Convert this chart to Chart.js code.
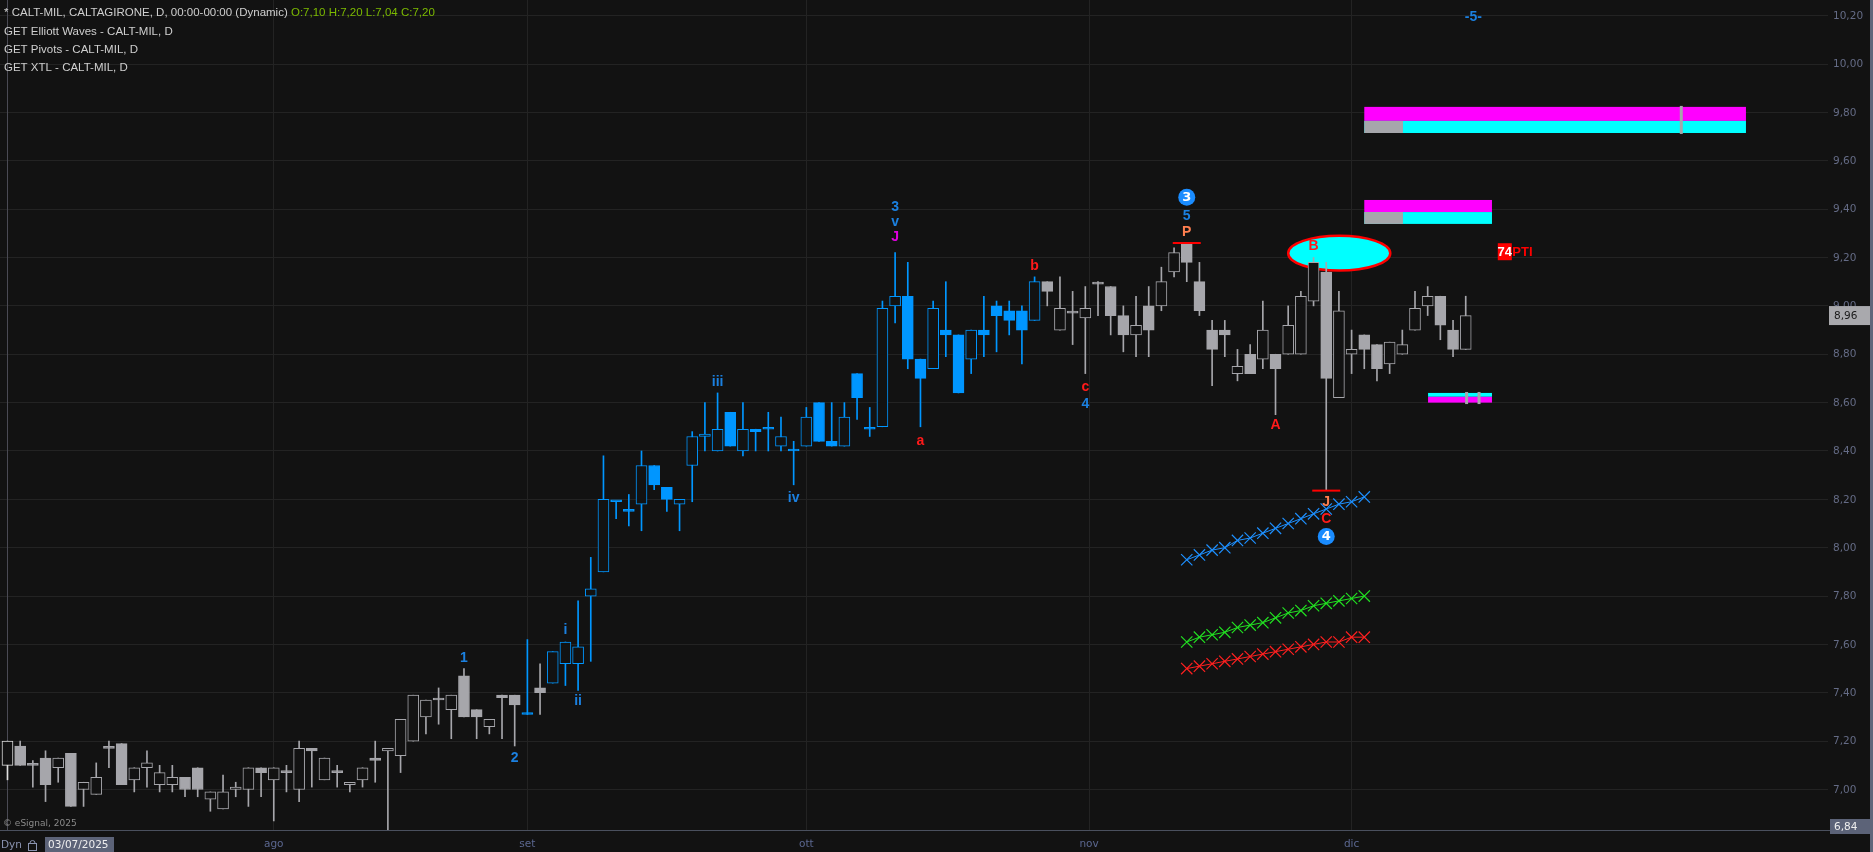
<!DOCTYPE html>
<html>
<head>
<meta charset="utf-8">
<title>CALT-MIL</title>
<script src="https://cdn.jsdelivr.net/npm/chart.js@4.4.1/dist/chart.umd.min.js"></script>
<style>
  html, body { margin: 0; padding: 0; background: #121212; overflow: hidden; }
  canvas { display: block; }
</style>
</head>
<body>
<canvas id="priceChart" width="1873" height="852"></canvas>
<script>
// Daily bars, 03/07/2025 .. 12/12/2025 (one entry per trading day)
let opens = [
  7.10, 7.18, 7.10, 7.13, 7.09, 7.15, 7.00, 6.98, 7.17, 7.19,
  7.04, 7.09, 7.02, 7.02, 7.05, 7.09, 6.96, 6.92, 7.00, 7.00,
  7.09, 7.04, 7.07, 7.00, 7.17, 7.04, 7.07, 7.02, 7.04, 7.13,
  7.16, 7.14, 7.20, 7.30, 7.37, 7.33, 7.47, 7.33, 7.26, 7.39,
  7.39, 7.31, 7.42, 7.44, 7.52, 7.52, 7.80, 7.90, 8.19, 8.15,
  8.18, 8.34, 8.25, 8.18, 8.34, 8.46, 8.40, 8.56, 8.40, 8.49,
  8.49, 8.42, 8.40, 8.42, 8.60, 8.44, 8.42, 8.72, 8.49, 8.50,
  9.00, 9.04, 8.78, 8.74, 8.90, 8.88, 8.78, 8.90, 9.00, 8.98,
  8.98, 8.94, 9.10, 8.90, 8.97, 8.95, 9.09, 9.08, 8.96, 8.88,
  9.00, 9.00, 9.14, 9.26, 9.10, 8.90, 8.90, 8.72, 8.80, 8.78,
  8.80, 8.80, 8.80, 9.02, 9.14, 8.62, 8.80, 8.88, 8.84, 8.76,
  8.80, 8.90, 9.00, 9.04, 8.90, 8.82
];
let highs = [
  7.20, 7.20, 7.12, 7.16, 7.13, 7.15, 7.03, 7.11, 7.20, 7.19,
  7.09, 7.16, 7.10, 7.10, 7.05, 7.09, 6.99, 7.06, 7.03, 7.09,
  7.09, 7.09, 7.10, 7.20, 7.17, 7.13, 7.10, 7.03, 7.09, 7.20,
  7.17, 7.29, 7.39, 7.37, 7.42, 7.39, 7.50, 7.33, 7.29, 7.39,
  7.39, 7.62, 7.52, 7.57, 7.61, 7.78, 7.96, 8.38, 8.19, 8.22,
  8.40, 8.34, 8.25, 8.20, 8.48, 8.60, 8.64, 8.56, 8.60, 8.49,
  8.56, 8.54, 8.44, 8.58, 8.60, 8.60, 8.60, 8.72, 8.58, 9.02,
  9.22, 9.18, 8.78, 9.02, 9.10, 8.88, 8.90, 9.04, 9.02, 9.02,
  9.00, 9.12, 9.10, 9.12, 9.06, 9.08, 9.10, 9.08, 9.00, 9.04,
  9.08, 9.16, 9.24, 9.26, 9.18, 8.94, 8.94, 8.82, 8.84, 9.02,
  8.80, 9.00, 9.06, 9.20, 9.18, 9.06, 8.90, 8.88, 8.84, 8.85,
  8.90, 9.06, 9.08, 9.04, 8.94, 9.04
];
let lows = [
  7.04, 7.10, 7.01, 6.95, 7.03, 6.93, 6.93, 6.98, 7.09, 7.02,
  6.99, 7.01, 6.99, 6.99, 6.97, 6.97, 6.91, 6.92, 6.97, 6.93,
  6.97, 6.87, 6.99, 6.95, 7.01, 7.04, 7.01, 6.99, 7.01, 7.03,
  6.82, 7.07, 7.20, 7.23, 7.27, 7.21, 7.30, 7.21, 7.23, 7.21,
  7.18, 7.31, 7.31, 7.44, 7.43, 7.41, 7.53, 7.90, 8.12, 8.09,
  8.07, 8.24, 8.15, 8.07, 8.19, 8.40, 8.40, 8.42, 8.38, 8.40,
  8.40, 8.40, 8.26, 8.42, 8.44, 8.42, 8.42, 8.53, 8.46, 8.50,
  8.93, 8.74, 8.50, 8.74, 8.79, 8.64, 8.72, 8.79, 8.81, 8.88,
  8.76, 8.94, 9.00, 8.90, 8.84, 8.72, 8.96, 8.88, 8.81, 8.79,
  8.79, 8.98, 9.12, 9.10, 8.96, 8.67, 8.79, 8.69, 8.72, 8.74,
  8.55, 8.80, 8.80, 9.00, 8.24, 8.62, 8.72, 8.74, 8.69, 8.72,
  8.80, 8.90, 8.96, 8.86, 8.79, 8.82
];
let closes = [
  7.20, 7.10, 7.10, 7.02, 7.13, 6.93, 7.03, 7.05, 7.17, 7.02,
  7.09, 7.11, 7.07, 7.05, 7.00, 7.00, 6.99, 6.99, 7.01, 7.09,
  7.07, 7.09, 7.07, 7.17, 7.16, 7.13, 7.07, 7.03, 7.09, 7.12,
  7.17, 7.29, 7.39, 7.37, 7.37, 7.39, 7.30, 7.30, 7.29, 7.38,
  7.35, 7.31, 7.40, 7.57, 7.61, 7.59, 7.83, 8.20, 8.19, 8.15,
  8.34, 8.26, 8.20, 8.20, 8.46, 8.47, 8.49, 8.42, 8.49, 8.48,
  8.49, 8.46, 8.40, 8.54, 8.44, 8.42, 8.54, 8.62, 8.49, 8.99,
  9.04, 8.78, 8.70, 8.99, 8.88, 8.64, 8.90, 8.88, 8.96, 8.94,
  8.90, 9.10, 9.06, 8.99, 8.97, 8.99, 9.09, 8.96, 8.88, 8.92,
  8.90, 9.10, 9.22, 9.18, 8.98, 8.82, 8.88, 8.75, 8.72, 8.90,
  8.74, 8.92, 9.04, 9.18, 8.70, 8.98, 8.82, 8.82, 8.74, 8.85,
  8.84, 8.99, 9.04, 8.92, 8.82, 8.96
];

// bars painted blue by the wave study
let blueBars = [41, 43, 81];   // single bar, then a run from..to
let cursorIndex = 0;
let cursorDate = "03/07/2025";
let bottomPrice = 6.84;

// axis ticks
let priceTicks = [7.0, 7.2, 7.4, 7.6, 7.8, 8.0, 8.2, 8.4, 8.6, 8.8, 9.0, 9.2, 9.4, 9.6, 9.8, 10.0, 10.2];
let monthTicks = [21, 41, 63, 85.3, 106];
let monthLabels = ["ago", "set", "ott", "nov", "dic"];

// XTL channel lines (bar index, price)
let channelIdx = [93, 94, 95, 96, 97, 98, 99, 100, 101, 102, 103, 104, 105, 106, 107];
let channelBlue  = [7.95, 7.97, 7.99, 8.00, 8.03, 8.04, 8.06, 8.08, 8.10, 8.12, 8.14, 8.16, 8.18, 8.19, 8.21];
let channelGreen = [7.61, 7.63, 7.64, 7.65, 7.67, 7.68, 7.69, 7.71, 7.73, 7.74, 7.76, 7.77, 7.78, 7.79, 7.80];
let channelRed   = [7.50, 7.51, 7.52, 7.53, 7.54, 7.55, 7.56, 7.57, 7.58, 7.59, 7.60, 7.61, 7.61, 7.63, 7.63];

// wave labels: [bar index, price, text, colour]
let waveLabels = [
  [36, 7.544, "1", "wave"],
  [40, 7.128, "2", "wave"],
  [44, 7.66, "i", "wave"],
  [45, 7.366, "ii", "wave"],
  [56, 8.686, "iii", "wave"],
  [62, 8.204, "iv", "wave"],
  [70, 9.407, "3", "wave"],
  [70, 9.347, "v", "wave"],
  [70, 9.285, "J", "magenta"],
  [72, 8.439, "a", "red"],
  [81, 9.164, "b", "red"],
  [85, 8.665, "c", "red"],
  [85, 8.594, "4", "wave"],
  [93, 9.372, "5", "wave"],
  [93, 9.303, "P", "orange"],
  [100, 8.505, "A", "red"],
  [103, 9.248, "B", "red"],
  [104, 8.188, "J", "orange"],
  [104, 8.117, "C", "red"],
  [115.6, 10.193, "-5-", "wave"]
];
let waveCircles = [[93, 9.449, "3"], [104, 8.046, "4"]];
let pivotMarks = [[93, 9.26], [104, 8.236]];

// target zones: [from index, to index, low, high, colour]
let zoneBoxes = [
  [107, 137.1, 9.765, 9.823, "pink"],
  [107, 137.1, 9.715, 9.765, "cyan"],
  [107, 110.05, 9.715, 9.765, "grey"],
  [107, 117.07, 9.388, 9.438, "pink"],
  [107, 117.07, 9.339, 9.388, "cyan"],
  [107, 110.05, 9.339, 9.388, "grey"],
  [112.03, 117.07, 8.624, 8.640, "cyan"],
  [112.03, 117.07, 8.600, 8.624, "pink"]
];
let zoneMarks = [[132, 9.711, 9.827], [115.07, 8.594, 8.644], [116.05, 8.594, 8.644]];
let ellipseZone = [101, 109.05, 9.146, 9.29];
let ptiMark = [118.08, 9.224, "74", "PTI"];

let header = "* CALT-MIL, CALTAGIRONE, D, 00:00-00:00 (Dynamic)";
let studies = ["GET Elliott Waves - CALT-MIL, D", "GET Pivots - CALT-MIL, D", "GET XTL - CALT-MIL, D"];

const COL = {
  bg: "#121212",
  grey: "#a6a6ab",
  blue: "#0096ff",
  wave: "#1b80e0",
  red: "#ff1a1a",
  magenta: "#e000e0",
  orange: "#ff7f50",
  cyan: "#00ffff",
  pink: "#ff00ff",
  grid: "#232323"
};

function fmt(v) {
  return v.toFixed(2).replace(".", ",");
}

// candle colours
let candleColors = opens.map((o, i) => {
  if (i === cursorIndex) return "#dedede";
  if (i === blueBars[0] || (i >= blueBars[1] && i <= blueBars[2])) return COL.blue;
  return COL.grey;
});
let bodyFill = opens.map((o, i) => (closes[i] > o ? COL.bg : candleColors[i]));

function channelSet(vals, color) {
  return {
    type: "line",
    data: channelIdx.map((x, k) => ({ x: x, y: vals[k] })),
    borderColor: color,
    borderWidth: 1,
    pointStyle: "crossRot",
    pointRadius: 8,
    pointBorderWidth: 1.2,
    pointBorderColor: color,
    order: 0
  };
}

const overlayPlugin = {
  id: "overlay",
  beforeDatasetsDraw(chart) {
    const { ctx, chartArea: a } = chart;
    const x = chart.scales.x, y = chart.scales.y;
    ctx.save();
    ctx.beginPath();
    ctx.rect(a.left, a.top, a.right - a.left, a.bottom - a.top);
    ctx.clip();

    // cursor line
    let cx = Math.round(x.getPixelForValue(cursorIndex)) + 0.5;
    ctx.strokeStyle = "#4a4a54";
    ctx.lineWidth = 1;
    ctx.beginPath();
    ctx.moveTo(cx, a.top);
    ctx.lineTo(cx, a.bottom);
    ctx.stroke();

    // target zones
    zoneBoxes.forEach(([i0, i1, lo, hi, c]) => {
      let x0 = x.getPixelForValue(i0), x1 = x.getPixelForValue(i1);
      let y0 = y.getPixelForValue(hi), y1 = y.getPixelForValue(lo);
      ctx.fillStyle = COL[c];
      ctx.fillRect(x0, y0, x1 - x0, y1 - y0);
    });
    ctx.fillStyle = COL.grey;
    zoneMarks.forEach(([i, lo, hi]) => {
      let px = x.getPixelForValue(i);
      let y0 = y.getPixelForValue(hi), y1 = y.getPixelForValue(lo);
      ctx.fillRect(px - 1.5, y0, 3, y1 - y0);
    });

    // ellipse around B
    let [e0, e1, eLo, eHi] = ellipseZone;
    let ex0 = x.getPixelForValue(e0), ex1 = x.getPixelForValue(e1);
    let ey0 = y.getPixelForValue(eHi), ey1 = y.getPixelForValue(eLo);
    ctx.beginPath();
    ctx.ellipse((ex0 + ex1) / 2, (ey0 + ey1) / 2, (ex1 - ex0) / 2, (ey1 - ey0) / 2, 0, 0, Math.PI * 2);
    ctx.fillStyle = COL.cyan;
    ctx.fill();
    ctx.strokeStyle = "#ff0000";
    ctx.lineWidth = 2.5;
    ctx.stroke();
    ctx.restore();
  },
  afterDatasetsDraw(chart) {
    const { ctx } = chart;
    const x = chart.scales.x, y = chart.scales.y;
    ctx.save();

    // pivot dashes
    ctx.fillStyle = "#ff0000";
    pivotMarks.forEach(([i, v]) => {
      let px = x.getPixelForValue(i), py = y.getPixelForValue(v);
      ctx.fillRect(px - 14, py - 1, 28, 2);
    });

    // wave labels
    ctx.textAlign = "center";
    ctx.textBaseline = "middle";
    waveLabels.forEach(([i, v, t, c]) => {
      ctx.font = 'bold 14px "Liberation Sans"';
      ctx.fillStyle = COL[c];
      ctx.fillText(t, x.getPixelForValue(i), y.getPixelForValue(v));
    });

    // circled wave degrees
    waveCircles.forEach(([i, v, t]) => {
      let px = x.getPixelForValue(i), py = y.getPixelForValue(v);
      ctx.beginPath();
      ctx.arc(px, py, 8.5, 0, Math.PI * 2);
      ctx.fillStyle = "#1a8cff";
      ctx.fill();
      ctx.font = 'bold 13px "DejaVu Sans"';
      ctx.fillStyle = "#ffffff";
      ctx.fillText(t, px, py + 0.5);
    });

    // PTI box
    let [pi, pv, num, word] = ptiMark;
    let ppx = x.getPixelForValue(pi), ppy = y.getPixelForValue(pv);
    ctx.fillStyle = "#ff0000";
    ctx.fillRect(ppx - 7, ppy - 8.5, 14, 17);
    ctx.font = 'bold 13px "Liberation Sans"';
    ctx.fillStyle = "#ffffff";
    ctx.fillText(num, ppx, ppy + 0.5);
    ctx.textAlign = "left";
    ctx.fillStyle = "#ff0000";
    ctx.fillText(word, ppx + 7.5, ppy + 0.5);
    ctx.restore();
  },
  afterDraw(chart) {
    const { ctx, chartArea: a } = chart;
    const x = chart.scales.x, y = chart.scales.y;
    const W = chart.width, H = chart.height;
    ctx.save();

    // axis frame
    ctx.fillStyle = "#4a505e";
    ctx.fillRect(0, a.bottom, W, 1);
    ctx.fillStyle = "#5f667a";
    ctx.fillRect(W - 3, 0, 3, H);

    // price labels
    ctx.font = '10.5px "DejaVu Sans"';
    ctx.textAlign = "left";
    ctx.textBaseline = "middle";
    ctx.fillStyle = "#646b85";
    priceTicks.forEach((v) => ctx.fillText(fmt(v), a.right + 5, y.getPixelForValue(v) + 0.5));

    // month labels
    ctx.textAlign = "center";
    ctx.fillStyle = "#5b6790";
    monthTicks.forEach((v, k) => ctx.fillText(monthLabels[k], x.getPixelForValue(v), a.bottom + 14));
    ctx.textAlign = "left";

    // last price box
    let ly = y.getPixelForValue(closes[closes.length - 1]);
    ctx.fillStyle = "#a9a9ad";
    ctx.fillRect(a.right + 1, ly - 9.5, 41, 19);
    ctx.fillStyle = "#1a1a1a";
    ctx.fillText(fmt(closes[closes.length - 1]), a.right + 6, ly + 0.5);

    // bottom price box
    ctx.fillStyle = "#5c6378";
    ctx.fillRect(a.right + 2, a.bottom - 11, 40, 15);
    ctx.fillStyle = "#eeeeee";
    ctx.fillText(fmt(bottomPrice), a.right + 6, a.bottom - 3);

    // cursor date box
    ctx.fillStyle = "#5c6378";
    ctx.fillRect(45, a.bottom + 7, 69, H - a.bottom - 7);
    ctx.fillStyle = "#eeeeee";
    ctx.fillText(cursorDate, 48, a.bottom + 15);
    ctx.fillStyle = "#8a93b0";
    ctx.fillText("Dyn", 1, a.bottom + 15);
    // lock glyph
    ctx.strokeStyle = "#8a93b0";
    ctx.lineWidth = 1;
    ctx.strokeRect(28.5, a.bottom + 13.5, 8, 7);
    ctx.beginPath();
    ctx.arc(32.5, a.bottom + 13, 2.5, Math.PI, 0);
    ctx.stroke();

    // copyright
    ctx.fillStyle = "#8a8a8a";
    ctx.font = '9px "DejaVu Sans"';
    ctx.fillText("\u00a9 eSignal, 2025", 3, a.bottom - 6);

    // study header
    ctx.font = '11.5px "Liberation Sans"';
    ctx.fillStyle = "#cfcfcf";
    ctx.fillText(header, 4, 13);
    let w = ctx.measureText(header + " ").width;
    ctx.fillStyle = "#7cba00";
    let i = cursorIndex;
    ctx.fillText("O:" + fmt(opens[i]) + " H:" + fmt(highs[i]) + " L:" + fmt(lows[i]) + " C:" + fmt(closes[i]), 4 + w, 13);
    ctx.fillStyle = "#cfcfcf";
    studies.forEach((s, k) => ctx.fillText(s, 4, 32 + k * 18));
    ctx.restore();
  }
};

let ctx = document.getElementById("priceChart").getContext("2d");

let priceChart = new Chart(ctx, {
  type: "bar",
  data: {
    datasets: [
      channelSet(channelBlue, "#1e90ff"),
      channelSet(channelGreen, "#22e022"),
      channelSet(channelRed, "#ff2020"),
      {
        label: "body",
        data: opens.map((o, i) => ({ x: i, y: [Math.min(o, closes[i]), Math.max(o, closes[i])] })),
        backgroundColor: bodyFill,
        borderColor: candleColors,
        borderWidth: 1,
        borderSkipped: false,
        barThickness: 11,
        minBarLength: 2,
        grouped: false,
        order: 1
      },
      {
        label: "wick",
        data: lows.map((l, i) => ({ x: i, y: [l, highs[i]] })),
        backgroundColor: candleColors,
        borderWidth: 0,
        barThickness: 1,
        grouped: false,
        order: 2
      }
    ]
  },
  options: {
    responsive: false,
    animation: false,
    events: [],
    layout: { padding: 0, autoPadding: false },
    plugins: {
      legend: { display: false },
      tooltip: { enabled: false }
    },
    scales: {
      x: {
        type: "linear",
        min: -0.59,
        max: 143.57,
        offset: false,
        grid: { color: COL.grid, drawTicks: false, offset: false },
        border: { display: false },
        afterBuildTicks: (axis) => {
          axis.ticks = monthTicks.map((v) => ({ value: v }));
        },
        afterFit: (axis) => {
          axis.height = 22;
        },
        ticks: { display: false }
      },
      y: {
        position: "right",
        min: 6.8325,
        max: 10.265,
        grid: { color: COL.grid, drawTicks: false },
        border: { display: false },
        afterBuildTicks: (axis) => {
          axis.ticks = priceTicks.map((v) => ({ value: v }));
        },
        afterFit: (axis) => {
          axis.width = 45;
        },
        ticks: { display: false }
      }
    }
  },
  plugins: [overlayPlugin]
});
</script>
</body>
</html>
